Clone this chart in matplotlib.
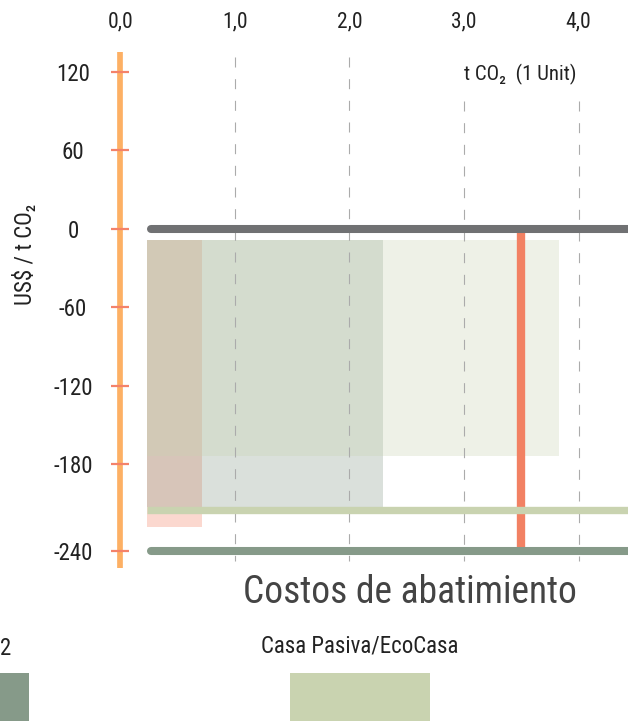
import matplotlib
matplotlib.use('Agg')
import matplotlib.pyplot as plt
from matplotlib import font_manager as fm
from matplotlib.patches import Rectangle

# ---------------- data ----------------
x_ticks = [0, 1, 2, 3, 4]
x_tick_labels = ['0,0', '1,0', '2,0', '3,0', '4,0']
y_ticks = [120, 60, 0, -60, -120, -180, -246]
y_tick_labels = ['120', '60', '0', '-60', '-120', '-180', '-240']

# abatement blocks: width in t CO2, cost span in US$/t CO2
block_x0 = [0.236, 0.236, 0.236]
block_x1 = [0.711, 2.296, 3.832]
block_top = [-8.6, -8.6, -8.6]
block_bottom = [-227.7, -212.4, -173.3]
block_colors = ['#F28163', '#869A89', '#C9D3B0']

# reference horizontal levels
ref_values = [0, -215.2, -246.0]
ref_colors = ['#707173', '#C9D3B0', '#869A89']
ref_x0 = [0.271, 0.236, 0.271]
ref_caps = ['round', 'butt', 'round']
ref_widths = [5.8, 5.3, 5.8]

# marker (1 unit t CO2)
marker_x = 3.495
marker_y = [0, -246.0]

grid_x = [1, 2, 3, 4]
grid_top = [131, 131, 98, 98]
grid_bottom = -254

legend_labels = ['2', 'Casa Pasiva/EcoCasa']
legend_colors = ['#869A89', '#C9D3B0']

# ---------------- fonts ----------------
names = {f.name for f in fm.fontManager.ttflist}
STRETCH = 'normal'
if 'Roboto Condensed' in names:
    FAMILY = 'Roboto Condensed'
elif 'Liberation Sans Narrow' in names:
    FAMILY = 'Liberation Sans Narrow'
elif any('DejaVuSansCondensed' in f.fname for f in fm.fontManager.ttflist):
    FAMILY = 'DejaVu Sans'
    STRETCH = 'condensed'
else:
    FAMILY = 'Roboto'
FAM = [FAMILY, 'DejaVu Sans']
plt.rcParams['font.family'] = FAM
plt.rcParams['font.stretch'] = STRETCH
plt.rcParams['lines.scale_dashes'] = False

W, H = 628, 721
fig = plt.figure(figsize=(W / 100, H / 100), dpi=100)

AX_TOP = 37
X0PX, XSC = 120.2, 114.6
Y0PX, YSC = 228.8, 1.3083
ax = fig.add_axes([0, 0, 1, (H - AX_TOP) / H])
ax.set_facecolor('none')
ax.set_xlim((0 - X0PX) / XSC, (W - X0PX) / XSC)
ax.set_ylim((Y0PX - H) / YSC, (Y0PX - AX_TOP) / YSC)

# blocks
for x0, x1, t, b, c in zip(block_x0, block_x1, block_top, block_bottom, block_colors):
    ax.add_patch(Rectangle((x0, b), x1 - x0, t - b, facecolor=c, alpha=0.3,
                           edgecolor='none', zorder=1))

# grid lines
for gx, gt in zip(grid_x, grid_top):
    ax.plot([gx, gx], [gt, grid_bottom], color='#ABABAB', lw=0.8,
            ls=(0, (7.2, 8.4)), zorder=1.5)

# marker line
ax.plot([marker_x, marker_x], marker_y, color='#F28163', lw=6.0,
        solid_capstyle='butt', zorder=1.8)

# horizontal reference lines
xr = ax.get_xlim()[1] + 0.2
for v, c, x0, cap, w in zip(ref_values, ref_colors, ref_x0, ref_caps, ref_widths):
    ax.plot([x0, xr], [v, v], color=c, lw=w, solid_capstyle=cap, zorder=2)

ax.text(marker_x, 118.0, 't CO₂  (1 Unit)', ha='center', va='center',
        fontsize=15, color='#222222', family=FAM)

# axes styling
for s in ['top', 'right', 'bottom']:
    ax.spines[s].set_visible(False)
sp = ax.spines['left']
sp.set_position(('data', 0))
sp.set_bounds(-259.3, 135.4)
sp.set_color('#FDB064')
sp.set_linewidth(4.1)
sp.set_capstyle('butt')
ax.set_axisbelow(False)

ax.set_yticks(y_ticks)
ax.set_yticklabels(y_tick_labels)
ax.tick_params(axis='y', direction='inout', length=13, width=1.6,
               color='#F4826A', pad=27.4, labelsize=16.5, labelcolor='#222222')
for lab in ax.get_yticklabels():
    lab.set_horizontalalignment('center')

ax.xaxis.tick_top()
ax.set_xticks(x_ticks)
ax.set_xticklabels(x_tick_labels)
ax.tick_params(axis='x', length=0, pad=3, labelsize=15.5, labelcolor='#222222')

# y label
fig.text(25 / W, 1 - 254 / H, 'US$ / t CO₂', rotation=90, ha='center', va='center',
         fontsize=16.5, color='#222222', family=FAM)

# title
fig.text(409.5 / W, 1 - 603 / H, 'Costos de abatimiento', ha='center', va='baseline',
         fontsize=27, color='#444444', family=FAM)

# legend (partially visible)
leg_x0 = [-111, 290]
leg_w = 140
for lbl, c, x0 in zip(legend_labels, legend_colors, leg_x0):
    fig.patches.append(Rectangle((x0 / W, 0), leg_w / W, 48 / H, facecolor=c,
                                 edgecolor='none', transform=fig.transFigure))
fig.text(6 / W, 1 - 655 / H, legend_labels[0], ha='center', va='baseline',
         fontsize=16.5, color='#222222', family=FAM)
fig.text(360 / W, 1 - 653 / H, legend_labels[1], ha='center', va='baseline',
         fontsize=16.5, color='#222222', family=FAM)

fig.savefig('out.png', dpi=100, facecolor='white')
